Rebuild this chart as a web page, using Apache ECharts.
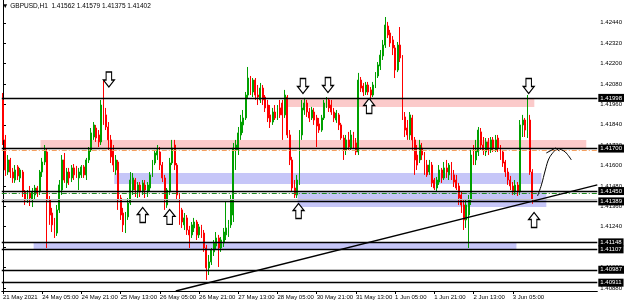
<!DOCTYPE html>
<html><head><meta charset="utf-8">
<script src="https://cdn.jsdelivr.net/npm/echarts@6/dist/echarts.min.js"></script>
<style>html,body{margin:0;padding:0;background:#fff}#c{width:625px;height:303px}</style>
</head><body><div id="c"></div>
<script>
// ---------- data ----------
const symbolName = 'GBPUSD,H1';
const lastOHLC = [1.41562, 1.41579, 1.41375, 1.41402];
const barSlots = 243;
const labelStep = 16;
const timeLabels = ['21 May 2021','24 May 05:00','24 May 21:00','25 May 13:00','26 May 05:00','26 May 21:00','27 May 13:00','28 May 05:00','30 May 21:00','31 May 13:00','1 Jun 05:00','1 Jun 21:00','2 Jun 13:00','3 Jun 05:00'];
const priceTicks = [1.40880,1.41000,1.41120,1.41240,1.41360,1.41480,1.41600,1.41720,1.41840,1.41960,1.42080,1.42200,1.42320,1.42440];
const priceMin = 1.40862, priceMax = 1.42574;
// candles: [open, close, low, high]
const candles = [
[1.41986,1.41751,1.41721,1.42027],[1.41751,1.41574,1.41539,1.41780],[1.41562,1.41633,1.41545,1.41662],[1.41633,1.41562,1.41527,1.41645],
[1.41562,1.41527,1.41498,1.41586],[1.41515,1.41574,1.41498,1.41603],[1.41592,1.41539,1.41515,1.41603],[1.41527,1.41574,1.41503,1.41586],
[1.41562,1.41445,1.41415,1.41574],[1.41445,1.41398,1.41368,1.41456],[1.41398,1.41439,1.41380,1.41456],[1.41439,1.41409,1.41362,1.41480],
[1.41398,1.41445,1.41356,1.41468],[1.41427,1.41468,1.41398,1.41486],[1.41468,1.41439,1.41415,1.41480],[1.41445,1.41562,1.41427,1.41574],
[1.41562,1.41621,1.41533,1.41645],[1.41621,1.41692,1.41603,1.41721],[1.41680,1.41398,1.41115,1.41703],[1.41398,1.41309,1.41251,1.41421],
[1.41321,1.41251,1.41209,1.41351],[1.41268,1.41203,1.41174,1.41292],[1.41203,1.41339,1.41186,1.41368],[1.41339,1.41486,1.41321,1.41515],
[1.41456,1.41633,1.41427,1.41662],[1.41633,1.41515,1.41498,1.41674],[1.41498,1.41562,1.41468,1.41586],[1.41562,1.41527,1.41486,1.41586],
[1.41527,1.41586,1.41503,1.41603],[1.41586,1.41545,1.41515,1.41609],[1.41562,1.41551,1.41527,1.41598],[1.41527,1.41562,1.41456,1.41586],
[1.41545,1.41592,1.41527,1.41603],[1.41592,1.41545,1.41527,1.41603],[1.41545,1.41633,1.41515,1.41645],[1.41633,1.41692,1.41615,1.41709],
[1.41692,1.41792,1.41680,1.41821],[1.41768,1.41839,1.41751,1.41856],[1.41821,1.41762,1.41739,1.41839],[1.41780,1.41739,1.41709,1.41809],
[1.41739,1.41956,1.41721,1.41986],[1.41956,1.41880,1.41839,1.42103],[1.41898,1.41827,1.41809,1.41939],[1.41827,1.41751,1.41692,1.41856],
[1.41751,1.41651,1.41615,1.41780],[1.41692,1.41603,1.41562,1.41721],[1.41574,1.41633,1.41545,1.41662],[1.41621,1.41398,1.41339,1.41633],
[1.41409,1.41309,1.41280,1.41427],[1.41321,1.41251,1.41209,1.41351],[1.41268,1.41309,1.41203,1.41327],[1.41298,1.41380,1.41280,1.41409],
[1.41380,1.41515,1.41368,1.41562],[1.41456,1.41527,1.41427,1.41556],[1.41515,1.41456,1.41415,1.41527],[1.41445,1.41486,1.41409,1.41503],
[1.41486,1.41445,1.41415,1.41503],[1.41445,1.41498,1.41427,1.41515],[1.41486,1.41456,1.41409,1.41515],[1.41445,1.41486,1.41415,1.41503],
[1.41468,1.41545,1.41445,1.41562],[1.41545,1.41615,1.41533,1.41633],[1.41615,1.41674,1.41603,1.41692],[1.41662,1.41692,1.41633,1.41721],
[1.41680,1.41603,1.41574,1.41709],[1.41603,1.41527,1.41503,1.41621],[1.41527,1.41398,1.41339,1.41545],[1.41368,1.41456,1.41351,1.41468],
[1.41445,1.41615,1.41427,1.41645],[1.41615,1.41703,1.41603,1.41751],[1.41721,1.41603,1.41574,1.41751],[1.41603,1.41427,1.41398,1.41615],
[1.41427,1.41339,1.41251,1.41439],[1.41339,1.41268,1.41233,1.41351],[1.41251,1.41292,1.41221,1.41321],[1.41292,1.41221,1.41192,1.41309],
[1.41221,1.41192,1.41115,1.41245],[1.41192,1.41251,1.41174,1.41268],[1.41233,1.41268,1.41209,1.41292],[1.41268,1.41192,1.41162,1.41280],
[1.41192,1.41239,1.41174,1.41256],[1.41239,1.41203,1.41174,1.41251],[1.41203,1.41115,1.41092,1.41221],[1.41115,1.40998,1.40927,1.41133],
[1.40998,1.41033,1.40956,1.41074],[1.41033,1.41103,1.41015,1.41115],[1.41092,1.41145,1.41068,1.41162],[1.41127,1.41174,1.41103,1.41209],
[1.41174,1.41115,1.41003,1.41192],[1.41115,1.41162,1.41092,1.41180],[1.41145,1.41209,1.41121,1.41233],[1.41192,1.41233,1.41162,1.41386],
[1.41203,1.41251,1.41180,1.41280],[1.41251,1.41398,1.41233,1.41427],[1.41309,1.41703,1.41268,1.41733],[1.41692,1.41721,1.41574,1.41751],
[1.41692,1.41792,1.41662,1.41827],[1.41780,1.41856,1.41751,1.41898],[1.41839,1.41880,1.41792,1.41927],[1.41880,1.42015,1.41868,1.42033],
[1.42015,1.42115,1.41998,1.42180],[1.42115,1.42045,1.42015,1.42127],[1.42033,1.42103,1.42003,1.42115],[1.42103,1.42015,1.41986,1.42115],
[1.42015,1.42003,1.41956,1.42074],[1.41986,1.42056,1.41968,1.42086],[1.42056,1.41986,1.41956,1.42074],[1.42003,1.41939,1.41915,1.42015],
[1.41956,1.41880,1.41856,1.41986],[1.41898,1.41856,1.41821,1.41956],[1.41856,1.41915,1.41839,1.41939],[1.41915,1.41880,1.41868,1.41956],
[1.41880,1.41939,1.41868,1.41956],[1.41939,1.41898,1.41880,1.41986],[1.41968,1.41898,1.41751,1.41986],[1.41898,1.42015,1.41880,1.42045],
[1.42003,1.41780,1.41762,1.42015],[1.41780,1.41633,1.41603,1.41809],[1.41633,1.41468,1.41445,1.41651],[1.41468,1.41427,1.41409,1.41515],
[1.41427,1.41515,1.41409,1.41545],[1.41515,1.41780,1.41486,1.41809],[1.41780,1.41939,1.41751,1.41986],[1.41927,1.41968,1.41898,1.41998],
[1.41968,1.41915,1.41886,1.41986],[1.41915,1.41880,1.41856,1.41939],[1.41880,1.41927,1.41868,1.41945],[1.41915,1.41868,1.41839,1.41939],
[1.41880,1.41833,1.41709,1.41898],[1.41845,1.41809,1.41792,1.41880],[1.41809,1.41880,1.41798,1.41898],[1.41880,1.41968,1.41868,1.41986],
[1.41956,1.41986,1.41939,1.42003],[1.41986,1.41939,1.41915,1.41998],[1.41956,1.41915,1.41898,1.41986],[1.41915,1.41880,1.41856,1.41939],
[1.41868,1.41909,1.41851,1.41927],[1.41898,1.41839,1.41809,1.41909],[1.41839,1.41762,1.41751,1.41851],[1.41762,1.41692,1.41633,1.41780],
[1.41692,1.41751,1.41662,1.41780],[1.41751,1.41709,1.41692,1.41798],[1.41703,1.41780,1.41692,1.41809],[1.41780,1.41721,1.41703,1.41798],
[1.41733,1.41680,1.41662,1.41762],[1.41680,1.42103,1.41662,1.42145],[1.42103,1.42056,1.42033,1.42121],[1.42068,1.42033,1.42009,1.42086],
[1.42033,1.42074,1.42015,1.42092],[1.42074,1.42033,1.42015,1.42092],[1.42045,1.42015,1.41986,1.42062],[1.42015,1.42074,1.42003,1.42092],
[1.42074,1.42133,1.42056,1.42150],[1.42127,1.42192,1.42115,1.42209],[1.42186,1.42250,1.42162,1.42280],[1.42245,1.42309,1.42221,1.42339],
[1.42309,1.42427,1.42292,1.42474],[1.42421,1.42368,1.42350,1.42445],[1.42380,1.42321,1.42298,1.42398],[1.42339,1.42292,1.42250,1.42362],
[1.42292,1.42162,1.42115,1.42309],[1.42162,1.42309,1.42150,1.42327],[1.42309,1.42233,1.42209,1.42415],[1.42233,1.41886,1.41868,1.42250],
[1.41886,1.41809,1.41768,1.41915],[1.41821,1.41780,1.41751,1.41868],[1.41780,1.41898,1.41751,1.41915],[1.41880,1.41751,1.41692,1.41898],
[1.41751,1.41633,1.41545,1.41768],[1.41662,1.41603,1.41574,1.41721],[1.41633,1.41721,1.41615,1.41751],[1.41703,1.41662,1.41633,1.41733],
[1.41662,1.41574,1.41545,1.41680],[1.41603,1.41545,1.41533,1.41633],[1.41562,1.41603,1.41545,1.41633],[1.41603,1.41498,1.41474,1.41621],
[1.41515,1.41468,1.41456,1.41527],[1.41468,1.41515,1.41445,1.41533],[1.41503,1.41574,1.41486,1.41603],[1.41574,1.41527,1.41498,1.41586],
[1.41527,1.41586,1.41515,1.41621],[1.41586,1.41562,1.41527,1.41633],[1.41545,1.41603,1.41515,1.41615],[1.41603,1.41545,1.41515,1.41621],
[1.41545,1.41503,1.41474,1.41574],[1.41515,1.41468,1.41456,1.41545],[1.41480,1.41409,1.41368,1.41498],[1.41427,1.41368,1.41321,1.41445],
[1.41368,1.41280,1.41221,1.41398],[1.41280,1.41368,1.41233,1.41398],[1.41309,1.41398,1.41115,1.41427],[1.41398,1.41662,1.41368,1.41692],
[1.41662,1.41633,1.41603,1.41721],[1.41633,1.41692,1.41603,1.41751],[1.41680,1.41809,1.41656,1.41827],[1.41798,1.41721,1.41692,1.41821],
[1.41721,1.41692,1.41662,1.41768],[1.41680,1.41739,1.41656,1.41762],[1.41739,1.41692,1.41662,1.41762],[1.41692,1.41751,1.41674,1.41768],
[1.41751,1.41703,1.41680,1.41768],[1.41692,1.41751,1.41680,1.41780],[1.41762,1.41703,1.41680,1.41780],[1.41703,1.41662,1.41633,1.41721],
[1.41680,1.41615,1.41592,1.41692],[1.41621,1.41562,1.41533,1.41633],[1.41562,1.41515,1.41486,1.41586],[1.41515,1.41480,1.41456,1.41539],
[1.41480,1.41445,1.41427,1.41503],[1.41445,1.41486,1.41427,1.41515],[1.41486,1.41445,1.41421,1.41503],[1.41445,1.41839,1.41427,1.41868],
[1.41839,1.41868,1.41768,1.41898],[1.41868,1.41809,1.41768,1.41880],[1.41780,1.41868,1.41762,1.42015],[1.41868,1.41562,1.41545,1.41898],
[1.41562,1.41402,1.41375,1.41579]
];
// horizontal levels (price)
const levels = [1.41998, 1.41700, 1.41450, 1.41389, 1.41148, 1.41107, 1.40987, 1.40911];
const fiboOrange = 1.41692;
const fiboGreen = 1.41439;
const bidPrice = 1.41402;
// zones: [fromBar, toBar, lowPrice, highPrice]
const pinkZones = [[15.3, 238.0, 1.41700, 1.41750], [116.1, 216.8, 1.41945, 1.41998]];
const blueZones = [[45.4, 219.7, 1.41492, 1.41556], [120.2, 221.7, 1.41356, 1.41442], [12.5, 209.5, 1.41107, 1.41148]];
// trend line [bar, price]
const trendLine = [[70.5, 1.40862], [242.5, 1.41486]];
// hand-drawn curved arrow [bar, price]
const curveStroke = [[218.1, 1.41421], [219.7, 1.41486], [221.3, 1.41574], [222.9, 1.41645], [225.4, 1.41692]];
const curveHead = [[221.7, 1.41674], [225.4, 1.41703], [227.0, 1.41686]];
const curveTail = [[227.0, 1.41698], [229.4, 1.41680], [231.9, 1.41633]];
// arrow objects [bar, price]
const downArrows = [[43.2, 1.42106], [122.4, 1.42068], [132.6, 1.42074], [214.5, 1.42068]];
const upArrows = [[57.0, 1.41309], [68.0, 1.41298], [120.6, 1.41333], [149.4, 1.41950], [216.7, 1.41280]];

// ---------- chart ----------
const FONT = 'Liberation Sans';
const chart = echarts.init(document.getElementById('c'), null, {renderer: 'canvas'});
const cats = [];
for (let i = 0; i < barSlots; i++) cats.push(String(i));
const showLab = i => i % labelStep === 0 && (i / labelStep) < timeLabels.length;

const DOWN = 'path://M3,0 H9 V8 H12 L6,15 L0,8 H3 Z';
const UP = 'path://M6,0 L12,7 H9 V15 H3 V7 H0 Z';

const lineSeries = (data, extra) => Object.assign({
  type: 'line', xAxisIndex: 1, yAxisIndex: 0, data, symbol: 'none', silent: true,
  animation: false, clip: true, lineStyle: {color: '#000', width: 1}
}, extra || {});

chart.setOption({
  animation: false,
  grid: {left: 0, right: 27, top: 0, bottom: 12, containLabel: false},
  xAxis: [{
    type: 'category', data: cats, boundaryGap: true,
    axisLine: {show: true, lineStyle: {color: '#000', width: 1}},
    axisTick: {show: true, interval: (i) => showLab(i), length: 3, lineStyle: {color: '#000'}, alignWithLabel: true},
    axisLabel: {interval: (i) => showLab(i), formatter: (v, i) => timeLabels[Math.round(i / labelStep)],
      fontSize: 6, fontFamily: FONT, color: '#000', align: 'left', margin: 3},
    splitLine: {show: false}
  }, {
    type: 'value', min: -0.5, max: barSlots - 0.5, show: false
  }],
  yAxis: [{
    type: 'value', position: 'right', min: priceMin, max: priceMax, scale: true,
    axisLine: {show: true, lineStyle: {color: '#000', width: 1}},
    axisTick: {show: true, length: 3, customValues: priceTicks, lineStyle: {color: '#000'}},
    axisLabel: {customValues: priceTicks, formatter: v => v.toFixed(5), fontSize: 6, fontFamily: FONT, color: '#000', margin: 3},
    splitLine: {show: false}
  }],
  graphic: [{
    type: 'text', left: 2, top: 3, silent: true,
    style: {text: '\u25BC ' + symbolName + '  ' + lastOHLC.map(v => v.toFixed(5)).join(' '), fontSize: 6.5, fontFamily: FONT, fill: '#000'}
  }],
  series: [
    // zones
    lineSeries([], {z: 1, markArea: {silent: true, data:
      pinkZones.map(z => [{coord: [z[0], z[3]], itemStyle: {color: '#fbcaca'}}, {coord: [z[1], z[2]]}])
      .concat(blueZones.map(z => [{coord: [z[0], z[3]], itemStyle: {color: '#c6c6f8'}}, {coord: [z[1], z[2]]}]))
    }}),
    // bid + fibo lines
    lineSeries([], {z: 2, markLine: {silent: true, symbol: 'none', animation: false, precision: 5, label: {show: false}, data: [
      {yAxis: bidPrice, lineStyle: {color: '#c0c0c0', width: 1, type: 'solid'}},
      {yAxis: fiboOrange, lineStyle: {color: '#f4a060', width: 1, type: [5, 2, 1, 2]}},
      {yAxis: fiboGreen, lineStyle: {color: '#1e8c1e', width: 1, type: [5, 2, 1, 2]}}
    ]}}),
    // horizontal levels
    lineSeries([], {z: 3, markLine: {silent: true, symbol: 'none', animation: false, precision: 5,
      lineStyle: {color: '#000', width: 1.4, type: 'solid'},
      label: {show: true, position: 'end', distance: 1, formatter: p => Number(p.value).toFixed(5),
        backgroundColor: '#000', color: '#fff', fontSize: 6, fontFamily: FONT, padding: [1, 2, 1, 2]},
      data: levels.map(v => ({yAxis: v}))
    }}),
    {
      type: 'candlestick', xAxisIndex: 0, yAxisIndex: 0, data: candles, z: 4,
      barWidth: 1.4, silent: true,
      itemStyle: {color: '#00a000', color0: '#ff0000', borderColor: '#00a000', borderColor0: '#ff0000', borderWidth: 1}
    },
    lineSeries(trendLine, {z: 5, lineStyle: {color: '#000', width: 1.3}}),
    lineSeries(curveStroke, {z: 5, smooth: 0.4, lineStyle: {color: '#000', width: 1}}),
    lineSeries(curveHead, {z: 5, lineStyle: {color: '#000', width: 1}}),
    lineSeries(curveTail, {z: 5, smooth: 0.4, lineStyle: {color: '#000', width: 1}}),
    {type: 'scatter', xAxisIndex: 1, yAxisIndex: 0, data: downArrows, symbol: DOWN, symbolSize: [11, 15], z: 6, silent: true,
      itemStyle: {color: '#fff', borderColor: '#000', borderWidth: 1.2, opacity: 1}},
    {type: 'scatter', xAxisIndex: 1, yAxisIndex: 0, data: upArrows, symbol: UP, symbolSize: [11, 15], z: 6, silent: true,
      itemStyle: {color: '#fff', borderColor: '#000', borderWidth: 1.2, opacity: 1}}
  ]
});
</script>
</body></html>
